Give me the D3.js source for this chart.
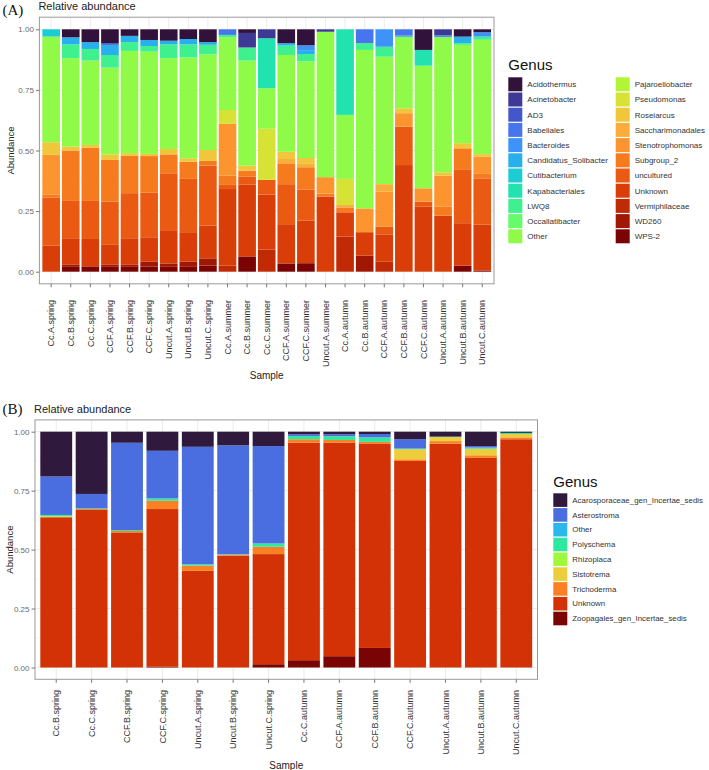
<!DOCTYPE html>
<html><head><meta charset="utf-8">
<script src="https://cdn.jsdelivr.net/npm/d3@7"></script>
<style>
body{margin:0;background:#fff}
svg{display:block}
text{font-family:"Liberation Sans",Arial,sans-serif}
</style>
</head><body>
<svg id="chart" width="709" height="770"></svg>
<script>
// ---------- Panel A data ----------
const samplesA = ["Cc.A.spring","Cc.B.spring","Cc.C.spring","CCF.A.spring","CCF.B.spring","CCF.C.spring","Uncut.A.spring","Uncut.B.spring","Uncut.C.spring","Cc.A.summer","Cc.B.summer","Cc.C.summer","CCF.A.summer","CCF.C.summer","Uncut.A.summer","Cc.A.autumn","Cc.B.autumn","CCF.A.autumn","CCF.B.autumn","CCF.C.autumn","Uncut.A.autumn","Uncut.B.autumn","Uncut.C.autumn"];
const generaA = ["Acidothermus","Acinetobacter","AD3","Babeliales","Bacteroides","Candidatus_Solibacter","Cutibacterium","Kapabacteriales","LWQ8","Occallatibacter","Other","Pajaroellobacter","Pseudomonas","Roseiarcus","Saccharimonadales","Stenotrophomonas","Subgroup_2","uncultured","Unknown","Vermiphilaceae","WD260","WPS-2"];
const colorsA = ["#30123b","#3e3994","#4457c9","#4675ed","#3e93fb","#27b0ec","#1bcdd2","#22e2b0","#3ef08e","#64fc6a","#8ffa48","#b4f436","#d6e236","#f0c63a","#fbad3a","#fc9530","#f67a1e","#ea5a12","#d93e08","#c02a04","#a01703","#7a0403"];

const acidothermus   = [0,.033,.053,.057,.027,.044,.047,.04,.053,0,.015,0,.057,.066,0,0,0,0,0,.085,0,.03,.012];
const acinetobacter  = [0,0,0,0,0,0,0,0,0,0,.06,.037,0,0,.01,0,0,0,0,0,.025,0,0];
const ad3            = [0,0,0,.007,0,0,0,0,0,0,0,0,0,0,0,0,0,0,0,0,0,0,0];
const babeliales     = [0,0,0,0,0,0,0,0,0,.023,0,0,0,0,0,0,.057,0,.026,0,0,0,0];
const bacteroides    = [0,0,0,0,0,0,0,0,0,0,0,0,0,.02,0,0,0,.072,0,0,.007,0,.018];
const candidatus     = [0,.029,.028,.042,.026,.025,.015,.022,.011,0,0,0,.01,.016,0,0,0,0,.005,0,0,.027,0];
const cutibacterium  = [.03,0,0,0,0,0,0,0,0,0,0,0,0,0,0,0,0,0,0,0,0,0,0];
const kapabacteriales= [0,0,0,0,0,0,0,0,0,0,0,.206,0,0,0,.353,0,0,0,.065,0,0,0];
const lwq8           = [0,.057,.048,.052,.036,.023,.057,.054,.039,.01,.054,0,.039,.03,0,0,.028,.041,0,0,0,.007,.013];
const occallatibacter= [0,0,0,0,0,0,0,0,0,0,0,0,0,0,0,0,0,0,0,0,0,0,0];
const otherA         = [.436,.365,.348,.358,.422,.422,.375,.416,.395,.3,.433,.167,.399,.399,.6,.264,.654,.526,.295,.506,.558,.406,.472];
const pajaroellobacter=[0,0,0,0,0,0,0,0,0,0,0,0,0,0,0,0,0,0,0,0,0,0,0];
const pseudomonas    = [0,0,0,0,0,0,0,0,0,.057,0,.211,0,0,0,.108,0,0,0,0,0,0,0];
const roseiarcus     = [.052,.016,.011,.023,.011,.009,.022,.014,.045,0,.021,0,.03,.024,0,0,0,0,.02,0,.014,.021,.01];
const saccharimonadales=[0,0,0,0,0,0,0,0,0,0,0,0,.018,.014,0,.01,0,.031,0,0,0,0,0];
const stenotrophomonas=[.163,0,0,0,0,0,0,0,0,.214,0,0,0,0,.068,0,.098,.144,.056,.055,.128,0,.069];
const subgroup2      = [.014,.208,.22,.172,.154,.151,.078,.071,.019,.038,.024,0,.086,.093,.012,.02,0,0,0,0,.037,.089,.021];
const unculturedA    = [.198,.154,.157,.176,.186,.184,.238,.22,.248,.017,.034,.061,.165,.127,0,0,0,.032,.158,.021,0,.22,.19];
const unknownA       = [.107,.108,.113,.083,.108,.101,.134,.122,.135,.316,.296,.227,.162,.176,.31,.1,.097,.113,.44,.268,.231,.175,.19];
const vermiphilaceae = [0,0,0,0,0,0,0,0,0,.025,0,.091,0,0,0,.145,0,.041,0,0,0,0,0];
const wd260          = [0,.01,0,.01,.01,.02,.014,.021,.03,0,0,0,0,0,0,0,.066,0,0,0,0,0,0];
const wps2           = [0,.02,.022,.02,.02,.021,.02,.02,.025,0,.063,0,.034,.035,0,0,0,0,0,0,0,.025,.005];
const seriesA = [acidothermus,acinetobacter,ad3,babeliales,bacteroides,candidatus,cutibacterium,kapabacteriales,lwq8,occallatibacter,otherA,pajaroellobacter,pseudomonas,roseiarcus,saccharimonadales,stenotrophomonas,subgroup2,unculturedA,unknownA,vermiphilaceae,wd260,wps2];

// ---------- Panel B data ----------
const samplesB = ["Cc.B.spring","Cc.C.spring","CCF.B.spring","CCF.C.spring","Uncut.A.spring","Uncut.B.spring","Uncut.C.spring","Cc.C.autumn","CCF.A.autumn","CCF.B.autumn","CCF.C.autumn","Uncut.A.autumn","Uncut.B.autumn","Uncut.C.autumn"];
const generaB = ["Acarosporaceae_gen_Incertae_sedis","Asterostroma","Other","Polyschema","Rhizoplaca","Sistotrema","Trichoderma","Unknown","Zoopagales_gen_Incertae_sedis"];
const colorsB = ["#2f1a3e","#4a6de0","#2ab8ea","#2ee8a0","#a0f83c","#ecce3a","#fb8024","#d23206","#7a0403"];
const acarosporaceae = [.19,.264,.047,.081,.064,.058,.061,.011,.011,.01,.032,.021,.061,.005];
const asterostroma   = [.163,.061,.37,.202,.498,.462,.413,.007,.008,.014,.038,0,.006,0];
const otherB         = [0,0,0,0,0,0,0,0,0,0,.004,0,.003,0];
const polyschema     = [.005,.003,.004,.01,.006,.002,.014,.014,.016,.019,0,.002,.003,.005];
const rhizoplaca     = [.003,0,0,0,0,0,0,0,0,0,0,0,0,0];
const sistotrema     = [0,0,0,0,0,0,0,0,0,0,.043,.017,.027,.014];
const trichoderma    = [.002,.004,.006,.035,.022,.004,.031,.015,.012,.007,.007,.011,.011,.008];
const unknownB       = [.637,.668,.573,.669,.41,.474,.467,.922,.905,.867,.876,.949,.889,.968];
const zoopagales     = [0,0,0,.003,0,0,.014,.031,.048,.083,0,0,0,0];
const seriesB = [acarosporaceae,asterostroma,otherB,polyschema,rhizoplaca,sistotrema,trichoderma,unknownB,zoopagales];

const yTicks = [0, 0.25, 0.5, 0.75, 1];
const yTickLabels = ["0.00","0.25","0.50","0.75","1.00"];

const svg = d3.select("#chart");

function drawPanel(o) {
  const g = svg.append("g");
  const x = d3.scaleBand().domain(o.samples).range([o.left, o.right]).paddingInner(0.1).paddingOuter(0.15);
  const y = d3.scaleLinear().domain([-0.05, 1.05]).range([o.bottom, o.top]);

  // grid
  const minor = [0.125, 0.375, 0.625, 0.875];
  g.selectAll(".mn").data(minor).join("line")
    .attr("x1", o.left).attr("x2", o.right).attr("y1", d => y(d)).attr("y2", d => y(d))
    .attr("stroke", "#f3f3f3").attr("stroke-width", 0.6);
  g.selectAll(".mj").data(yTicks).join("line")
    .attr("x1", o.left).attr("x2", o.right).attr("y1", d => y(d)).attr("y2", d => y(d))
    .attr("stroke", "#ebebeb").attr("stroke-width", 1);
  g.selectAll(".vg").data(o.samples).join("line")
    .attr("x1", d => x(d) + x.bandwidth()/2).attr("x2", d => x(d) + x.bandwidth()/2)
    .attr("y1", o.top).attr("y2", o.bottom)
    .attr("stroke", "#ebebeb").attr("stroke-width", 1);

  // stacked bars
  const rows = o.samples.map((s, i) => {
    const r = {sample: s};
    o.genera.forEach((gn, k) => r[gn] = o.series[k][i]);
    return r;
  });
  const keys = o.genera.slice().reverse();
  const stack = d3.stack().keys(keys)(rows);
  const col = d3.scaleOrdinal().domain(o.genera).range(o.colors);
  g.selectAll(".layer").data(stack).join("g")
    .attr("fill", d => col(d.key))
    .selectAll("rect").data(d => d).join("rect")
    .attr("x", d => x(d.data.sample))
    .attr("width", x.bandwidth())
    .attr("y", d => y(d[1]))
    .attr("height", d => Math.max(0, y(d[0]) - y(d[1])));

  // frame
  g.append("rect").attr("x", o.left).attr("y", o.top)
    .attr("width", o.right - o.left).attr("height", o.bottom - o.top)
    .attr("fill", "none").attr("stroke", "#9a9a9a").attr("stroke-width", 1);

  // y axis
  const ya = g.append("g").attr("transform", `translate(${o.left},0)`)
    .call(d3.axisLeft(y).tickValues(yTicks).tickFormat((d, i) => yTickLabels[i]).tickSize(3.5).tickPadding(2));
  ya.select(".domain").remove();
  ya.selectAll(".tick line").attr("stroke", "#777");
  ya.selectAll(".tick text").attr("fill", "#6b6b6b").style("font-size", "8px");

  // x axis
  const xa = g.append("g").attr("transform", `translate(0,${o.bottom})`)
    .call(d3.axisBottom(x).tickSize(3.5));
  xa.select(".domain").remove();
  xa.selectAll(".tick line").attr("stroke", "#777");
  xa.selectAll(".tick text")
    .attr("transform", `rotate(-90)`)
    .attr("x", -(o.labelTop - o.bottom)).attr("y", 0).attr("dy", "0.35em")
    .attr("text-anchor", "end")
    .attr("fill", "#333").style("font-size", "9px");

  // titles
  g.append("text").attr("x", 2.5).attr("y", o.tagY).text(o.tag)
    .style("font-family", "'Liberation Serif','Times New Roman',serif").style("font-size", "15px").attr("fill", "#111");
  g.append("text").attr("x", o.left - 1).attr("y", o.titleY).text("Relative abundance")
    .style("font-size", "11px").attr("fill", "#222");
  g.append("text").attr("transform", `translate(${o.yTitleX},${(y(0)+y(1))/2}) rotate(-90)`)
    .attr("text-anchor", "middle").attr("dy", "0.35em").text("Abundance")
    .style("font-size", "9.5px").attr("fill", "#222");
  g.append("text").attr("x", (o.left + o.right)/2).attr("y", o.xTitleY)
    .attr("text-anchor", "middle").text("Sample")
    .style("font-size", "10px").attr("fill", "#222");

  // legend
  const lg = g.append("g");
  lg.append("text").attr("x", o.legX[0]).attr("y", o.legTitleY).text("Genus")
    .style("font-size", o.legTitleSize).attr("fill", "#111");
  o.genera.forEach((gn, k) => {
    const c = Math.floor(k / o.legRows), r = k % o.legRows;
    const kx = o.legX[c], ky = o.legY0 + r * o.legStep;
    lg.append("rect").attr("x", kx).attr("y", ky).attr("width", 14).attr("height", o.legStep - 1.2)
      .attr("fill", col(gn));
    lg.append("text").attr("x", kx + 19).attr("y", ky + (o.legStep - 1.2)/2).attr("dy", "0.35em")
      .text(gn).style("font-size", o.legFont).attr("fill", "#333");
  });
}

drawPanel({
  samples: samplesA, genera: generaA, colors: colorsA, series: seriesA,
  left: 39.4, right: 494, top: 17.2, bottom: 283.8, labelTop: 300,
  tag: "(A)", tagY: 14.5, titleY: 9.5, yTitleX: 10.5, xTitleY: 378.5,
  legX: [508.3, 615.7], legY0: 77.3, legStep: 15.2, legRows: 11, legTitleY: 70, legTitleSize: "15px", legFont: "8px"
});
drawPanel({
  samples: samplesB, genera: generaB, colors: colorsB, series: seriesB,
  left: 35, right: 537.5, top: 419.9, bottom: 679.3, labelTop: 690,
  tag: "(B)", tagY: 414, titleY: 413, yTitleX: 9.5, xTitleY: 769,
  legX: [553.3], legY0: 493.3, legStep: 14.8, legRows: 9, legTitleY: 487.3, legTitleSize: "15px", legFont: "7.9px"
});
</script>
</body></html>
